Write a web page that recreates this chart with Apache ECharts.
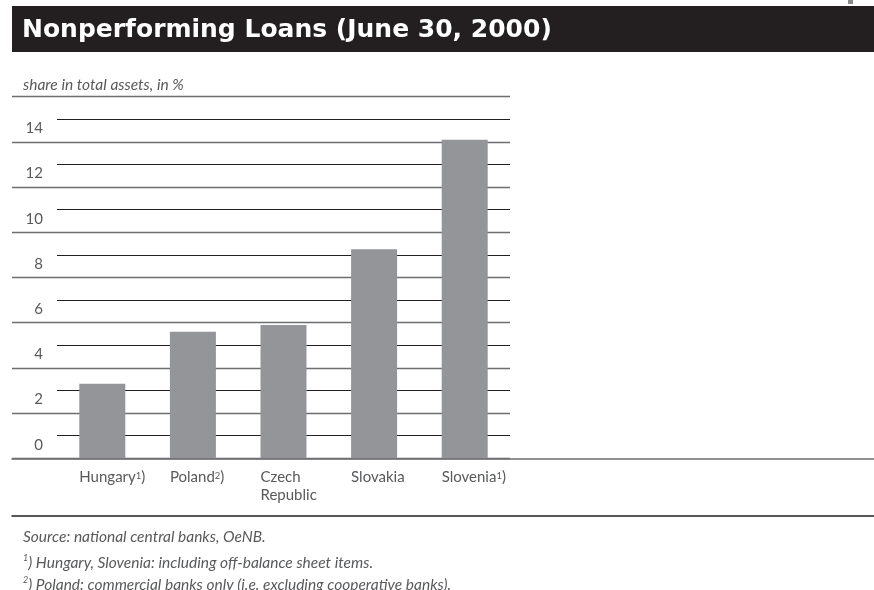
<!DOCTYPE html>
<html>
<head>
<meta charset="utf-8">
<script src="https://cdn.jsdelivr.net/npm/echarts@6/dist/echarts.min.js"></script>
<style>
  html, body { margin: 0; padding: 0; background: #fff; }
  #chart { width: 874px; height: 590px; }
</style>
</head>
<body>
<div id="chart"></div>
<script>
// chart values
var countries = ['Hungary', 'Poland', 'Czech\nRepublic', 'Slovakia', 'Slovenia'];
var notes = ['1', '2', '', '', '1'];
var npl = [3.3, 5.6, 5.9, 9.25, 14.1];

var font = 'Lato, "Open Sans", sans-serif';
var textGrey = '#58595b';

var noteRich = {
    n: { color: textGrey, fontSize: 15.5, fontStyle: 'italic', fontWeight: 'normal', lineHeight: 18 },
    s: { color: textGrey, fontSize: 9, fontStyle: 'italic', fontWeight: 'normal', verticalAlign: 'top', lineHeight: 14 }
};

var chart = echarts.init(document.getElementById('chart'));
chart.setOption({
    animation: false,
    textStyle: { fontFamily: font },
    graphic: [
        { type: 'rect', z: 0, shape: { x: 12, y: 6, width: 862, height: 46 }, style: { fill: '#231f20' } },
        { type: 'rect', z: 0, shape: { x: 848, y: 0, width: 5, height: 4 }, style: { fill: '#8a8a8a' } }
    ],
    title: [
        {
            text: 'Nonperforming Loans (June 30, 2000)',
            left: 22, top: 15, z: 10, padding: 0,
            textStyle: { color: '#fff', fontSize: 25, fontWeight: 'bold', fontFamily: '"DejaVu Sans", sans-serif', lineHeight: 30 }
        },
        {
            text: 'share in total assets, in %',
            left: 23, top: 76, padding: 0,
            textStyle: { color: textGrey, fontSize: 15.5, fontStyle: 'italic', fontWeight: 'normal', lineHeight: 18 }
        },
        {
            text: 'Source: national central banks, OeNB.',
            left: 23, top: 528, padding: 0,
            textStyle: { color: textGrey, fontSize: 15.5, fontStyle: 'italic', fontWeight: 'normal', lineHeight: 18 }
        },
        {
            text: '{s|1}{n|) Hungary, Slovenia: including off-balance sheet items.}',
            left: 23, top: 554, padding: 0,
            textStyle: { rich: noteRich }
        },
        {
            text: '{s|2}{n|) Poland: commercial banks only (i.e. excluding cooperative banks).}',
            left: 23, top: 576, padding: 0,
            textStyle: { rich: noteRich }
        }
    ],
    grid: [
        { left: 57, right: 364, top: 119.3, bottom: 131.7 },
        { left: 12, right: 364, top: 96.7, bottom: 131.7 },
        { left: 12, right: 0, top: 96.7, bottom: 131.7 },
        { left: 12, right: 0, top: 96.7, bottom: 74.5 },
        { left: 34, right: 387, top: 119.3, bottom: 131.7 }
    ],
    xAxis: [
        {
            gridIndex: 0, type: 'category', data: countries,
            axisLine: { show: false }, axisTick: { show: false }, axisLabel: { show: false }
        },
        { gridIndex: 1, type: 'category', data: countries, show: false },
        {
            gridIndex: 2, type: 'category', data: [''],
            axisLine: { show: true, lineStyle: { color: '#6d6e71', width: 1.5 } },
            axisTick: { show: false }, axisLabel: { show: false }
        },
        {
            gridIndex: 3, type: 'category', data: [''],
            axisLine: { show: true, lineStyle: { color: '#231f20', width: 1.5 } },
            axisTick: { show: false }, axisLabel: { show: false }
        },
        {
            gridIndex: 4, type: 'category', data: countries,
            axisLine: { show: false }, axisTick: { show: false },
            axisLabel: {
                align: 'left', margin: 10, interval: 0,
                formatter: function (v, i) {
                    var s = '{n|' + v + '}';
                    if (notes[i]) s += '{s|' + notes[i] + '}{n|)}';
                    return s;
                },
                rich: {
                    n: { color: textGrey, fontSize: 15, lineHeight: 18 },
                    s: { color: textGrey, fontSize: 9.5, lineHeight: 18, verticalAlign: 'middle', padding: [0, 0, 3, 0] }
                }
            }
        }
    ],
    yAxis: [
        {
            gridIndex: 0, type: 'value', min: 0, max: 15, interval: 1,
            axisLine: { show: false }, axisTick: { show: false },
            axisLabel: {
                color: textGrey, fontSize: 15, margin: 14, verticalAlign: 'bottom', padding: [0, 0, 6, 0],
                formatter: function (v) { return v % 2 === 0 ? String(v) : ''; }
            },
            splitLine: { show: true, lineStyle: { color: ['rgba(0,0,0,0)', '#231f20'], width: 1.2 } }
        },
        {
            gridIndex: 1, type: 'value', min: 0, max: 16, interval: 2,
            axisLine: { show: false }, axisTick: { show: false }, axisLabel: { show: false },
            splitLine: { show: true, lineStyle: { color: '#6d6e71', width: 1.4 } }
        },
        { gridIndex: 2, type: 'value', show: false, splitLine: { show: false } },
        { gridIndex: 3, type: 'value', show: false, splitLine: { show: false } },
        { gridIndex: 4, type: 'value', show: false, splitLine: { show: false } }
    ],
    series: [
        {
            type: 'bar', xAxisIndex: 0, yAxisIndex: 0,
            data: npl, barWidth: 46, z: 5,
            itemStyle: { color: '#939598' }
        }
    ]
});
</script>
</body>
</html>
